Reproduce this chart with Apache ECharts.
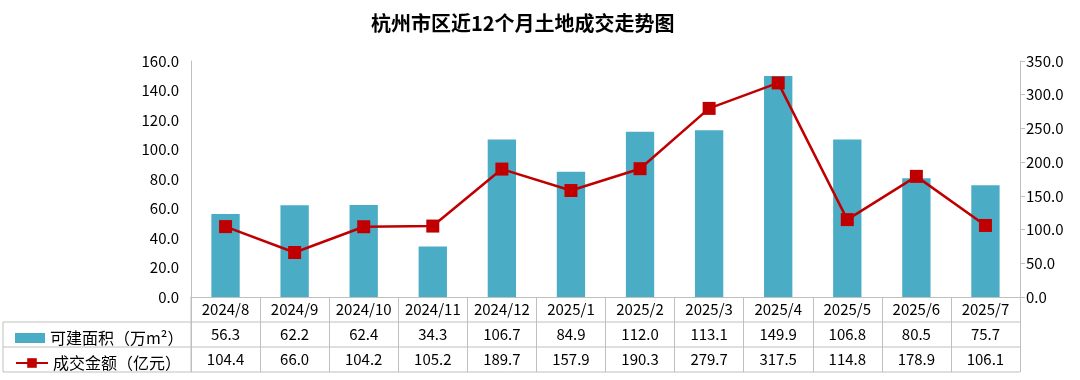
<!DOCTYPE html>
<html><head><meta charset="utf-8">
<script src="https://cdn.jsdelivr.net/npm/echarts@6/dist/echarts.min.js"></script>
<style>html,body{margin:0;padding:0;background:#fff}#c{width:1080px;height:380px}</style>
</head><body><div id="c"></div>
<script>
const title = '杭州市区近12个月土地成交走势图';
const categories = ['2024/8','2024/9','2024/10','2024/11','2024/12','2025/1','2025/2','2025/3','2025/4','2025/5','2025/6','2025/7'];
const areaName = '可建面积（万m²）';
const amountName = '成交金额（亿元）';
const areaValues = [56.3,62.2,62.4,34.3,106.7,84.9,112.0,113.1,149.9,106.8,80.5,75.7];
const amountValues = [104.4,66.0,104.2,105.2,189.7,157.9,190.3,279.7,317.5,114.8,178.9,106.1];

const W = 1080, H = 380;
const gl = 191, gr = 60, gt = 61, gb = 83;
const rowH = 25;
const axisY = H - gb;
const lineColor = '#BFBFBF';
const font = '"Noto Sans CJK SC", "Noto Sans", sans-serif';

const hLines = [1,2,3].map(k => ({
  type:'line', silent:true,
  shape:{x1:3, y1:axisY + k*rowH, x2:W - gr, y2:axisY + k*rowH},
  style:{stroke:lineColor, lineWidth:1}
}));
hLines.push({type:'line', silent:true, shape:{x1:3,y1:axisY+rowH,x2:3,y2:axisY+3*rowH}, style:{stroke:lineColor,lineWidth:1}});
hLines.push({type:'line', silent:true, shape:{x1:gl,y1:axisY,x2:gl,y2:axisY+3*rowH}, style:{stroke:lineColor,lineWidth:1}});

const chart = echarts.init(document.getElementById('c'));
chart.setOption({
  animation:false,
  backgroundColor:'#fff',
  textStyle:{fontFamily:font},
  title:{text:title, left:366, top:8, textStyle:{fontSize:20, fontWeight:'bold', color:'#000', fontFamily:font}},
  legend:[
    {data:[{name:areaName, icon:'rect'}], left:10, top:axisY + rowH + 3, itemWidth:30, itemHeight:10, itemGap:10,
     textStyle:{fontSize:16, color:'#000'}},
    {data:[amountName], left:10, top:axisY + 2*rowH + 3, itemWidth:32, itemHeight:12, itemGap:10,
     textStyle:{fontSize:16, color:'#000'}}
  ],
  grid:{left:gl, right:gr, top:gt, bottom:gb, containLabel:false},
  xAxis:{
    type:'category', data:categories,
    axisLine:{show:true, lineStyle:{color:lineColor, width:1}},
    axisTick:{show:true, length:3*rowH, alignWithLabel:false, lineStyle:{color:lineColor}},
    axisLabel:{margin:0, lineHeight:rowH, fontSize:15, color:'#000', interval:0,
      formatter:(v, i) => v + '\n' + areaValues[i].toFixed(1) + '\n' + amountValues[i].toFixed(1)}
  },
  yAxis:[
    {type:'value', min:0, max:160, interval:20, splitLine:{show:false},
     axisLine:{show:true, lineStyle:{color:lineColor}}, axisTick:{show:false},
     axisLabel:{fontSize:15, color:'#000', margin:12, formatter:v => v.toFixed(1)}},
    {type:'value', min:0, max:350, interval:50, splitLine:{show:false}, position:'right',
     axisLine:{show:true, lineStyle:{color:lineColor}}, axisTick:{show:true, length:5, lineStyle:{color:lineColor}},
     axisLabel:{fontSize:15, color:'#000', margin:6, formatter:v => v.toFixed(1)}}
  ],
  graphic:hLines,
  series:[
    {name:areaName, type:'bar', data:areaValues, yAxisIndex:0, barWidth:'41%',
     itemStyle:{color:'#4BACC6'}},
    {name:amountName, type:'line', data:amountValues, yAxisIndex:1,
     symbol:'rect', symbolSize:13, lineStyle:{color:'#C00000', width:2.5},
     itemStyle:{color:'#C00000'}}
  ]
});
</script></body></html>
